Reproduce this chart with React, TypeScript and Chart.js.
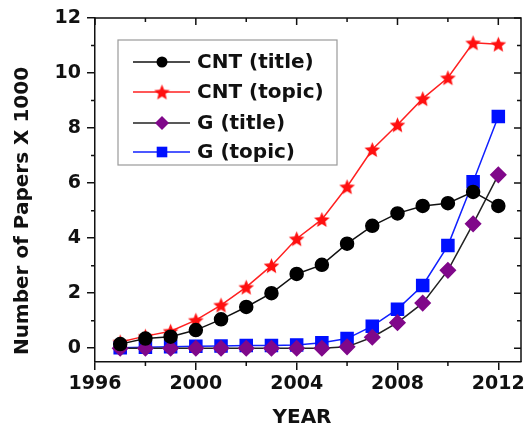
import React, { useEffect, useRef } from 'react';
import { Chart, registerables } from 'chart.js';
Chart.register(...registerables);

const years = [1997, 1998, 1999, 2000, 2001, 2002, 2003, 2004, 2005, 2006, 2007, 2008, 2009, 2010, 2011, 2012];
const cntTitle = [0.15, 0.35, 0.42, 0.66, 1.05, 1.5, 2.0, 2.7, 3.03, 3.8, 4.45, 4.9, 5.17, 5.27, 5.68, 5.17];
const cntTopic = [0.23, 0.44, 0.62, 1.02, 1.57, 2.22, 3.0, 3.98, 4.68, 5.87, 7.22, 8.12, 9.07, 9.83, 11.1, 11.05];
const gTitle = [0.0, 0.0, 0.0, 0.0, 0.0, 0.0, 0.0, 0.0, 0.0, 0.05, 0.4, 0.93, 1.64, 2.83, 4.52, 6.3];
const gTopic = [0.02, 0.04, 0.05, 0.07, 0.08, 0.1, 0.1, 0.12, 0.2, 0.35, 0.8, 1.42, 2.28, 3.73, 6.05, 8.42];

const seriesLabels = ['CNT (title)', 'CNT (topic)', 'G (title)', 'G (topic)'];
const xTicks = [1996, 2000, 2004, 2008, 2012];
const xMinorTicks = [1998, 2002, 2006, 2010];
const yTicks = [0, 2, 4, 6, 8, 10, 12];
const yMinorTicks = [1, 3, 5, 7, 9, 11];
const xTitle = 'YEAR';
const yTitle = 'Number of Papers X 1000';

const FONT = 'DejaVu Sans';

function makeStar(size: number, color: string) {
  const c = document.createElement('canvas');
  c.width = size;
  c.height = size;
  const ctx = c.getContext('2d')!;
  const cx = size / 2, cy = size / 2 + 0.8;
  const R = size / 2 - 0.3, r = R * 0.45;
  ctx.beginPath();
  for (let i = 0; i < 10; i++) {
    const a = -Math.PI / 2 + (i * Math.PI) / 5;
    const rad = i % 2 === 0 ? R : r;
    ctx.lineTo(cx + rad * Math.cos(a), cy + rad * Math.sin(a));
  }
  ctx.closePath();
  ctx.fillStyle = color;
  ctx.fill();
  return c;
}

function drawMarker(ctx: CanvasRenderingContext2D, style: any, x: number, y: number, r: number, fill: string) {
  ctx.save();
  ctx.fillStyle = fill;
  ctx.beginPath();
  if (style === 'circle') {
    ctx.arc(x, y, r, 0, Math.PI * 2);
    ctx.fill();
  } else if (style === 'rectRot') {
    ctx.moveTo(x - r, y);
    ctx.lineTo(x, y - r);
    ctx.lineTo(x + r, y);
    ctx.lineTo(x, y + r);
    ctx.closePath();
    ctx.fill();
  } else if (style === 'rect') {
    const s = r * Math.SQRT1_2;
    ctx.rect(x - s, y - s, 2 * s, 2 * s);
    ctx.fill();
  } else if (style instanceof HTMLCanvasElement) {
    ctx.drawImage(style, x - style.width / 2, y - style.height / 2);
  }
  ctx.restore();
}

const framePlugin = {
  id: 'frame',
  afterDraw(chart: any) {
    const ctx: CanvasRenderingContext2D = chart.ctx;
    const { left, right, top, bottom } = chart.chartArea;
    const xs = chart.scales.x;
    const ys = chart.scales.y;
    ctx.save();
    ctx.strokeStyle = '#111';
    ctx.lineWidth = 1.5;
    // top and right border
    ctx.beginPath();
    ctx.moveTo(left, top);
    ctx.lineTo(right, top);
    ctx.lineTo(right, bottom);
    ctx.stroke();
    ctx.beginPath();
    // bottom minor outward
    xMinorTicks.forEach((v) => {
      const px = xs.getPixelForValue(v);
      ctx.moveTo(px, bottom);
      ctx.lineTo(px, bottom + 4);
    });
    // left minor outward
    yMinorTicks.forEach((v) => {
      const py = ys.getPixelForValue(v);
      ctx.moveTo(left, py);
      ctx.lineTo(left - 4, py);
    });
    // top ticks inward
    xTicks.forEach((v) => {
      const px = xs.getPixelForValue(v);
      ctx.moveTo(px, top);
      ctx.lineTo(px, top + 7);
    });
    xMinorTicks.forEach((v) => {
      const px = xs.getPixelForValue(v);
      ctx.moveTo(px, top);
      ctx.lineTo(px, top + 4);
    });
    // right ticks inward
    yTicks.forEach((v) => {
      const py = ys.getPixelForValue(v);
      ctx.moveTo(right, py);
      ctx.lineTo(right - 7, py);
    });
    yMinorTicks.forEach((v) => {
      const py = ys.getPixelForValue(v);
      ctx.moveTo(right, py);
      ctx.lineTo(right - 4, py);
    });
    ctx.stroke();

    // titles
    ctx.fillStyle = '#111';
    ctx.font = `bold 20px "${FONT}"`;
    ctx.textAlign = 'center';
    ctx.textBaseline = 'middle';
    ctx.fillText(xTitle, 302, 418);
    ctx.save();
    ctx.translate(23, 211);
    ctx.rotate(-Math.PI / 2);
    ctx.fillText(yTitle, 0, 0);
    ctx.restore();

    // legend
    const lx0 = 118, ly0 = 40, lx1 = 337, ly1 = 165;
    ctx.strokeStyle = '#9a9a9a';
    ctx.lineWidth = 1.2;
    ctx.strokeRect(lx0, ly0, lx1 - lx0, ly1 - ly0);
    const rows = [62, 92, 123, 152];
    ctx.font = `bold 20px "${FONT}"`;
    ctx.textAlign = 'left';
    chart.data.datasets.forEach((ds: any, i: number) => {
      const y = rows[i];
      ctx.strokeStyle = ds.borderColor;
      ctx.lineWidth = 1.5;
      ctx.beginPath();
      ctx.moveTo(133, y);
      ctx.lineTo(190, y);
      ctx.stroke();
      const r = ds.pointStyle === 'circle' ? 5.5 : ds.pointStyle === 'rectRot' ? 7 : 7.5;
      drawMarker(ctx, ds.pointStyle, 162, y, r, ds.pointBackgroundColor);
      ctx.fillStyle = '#111';
      ctx.fillText(ds.label, 197, y + 1);
    });
    ctx.restore();
  },
};

export default function App() {
  const ref = useRef<HTMLCanvasElement>(null);
  useEffect(() => {
    const star = makeStar(17, '#ff1010');
    const starLegend = makeStar(15, '#ff1010');
    const mk = (vals: number[]) => years.map((y, i) => ({ x: y, y: vals[i] }));
    const chart = new Chart(ref.current!, {
      type: 'line',
      data: {
        datasets: [
          {
            label: seriesLabels[0],
            data: mk(cntTitle),
            borderColor: '#111',
            pointBackgroundColor: '#000',
            pointBorderColor: '#000',
            pointStyle: 'circle',
            pointRadius: 6.5,
            borderWidth: 1.5,
            order: 0,
          },
          {
            label: seriesLabels[1],
            data: mk(cntTopic),
            borderColor: '#ff2020',
            pointBackgroundColor: '#ff1010',
            pointBorderColor: '#ff1010',
            pointStyle: star as any,
            pointRadius: 8,
            borderWidth: 1.5,
            order: 1,
          },
          {
            label: seriesLabels[2],
            data: mk(gTitle),
            borderColor: '#222',
            pointBackgroundColor: '#80088a',
            pointBorderColor: '#80088a',
            pointStyle: 'rectRot',
            pointRadius: 7.5,
            borderWidth: 1.5,
            order: 2,
          },
          {
            label: seriesLabels[3],
            data: mk(gTopic),
            borderColor: '#1020ff',
            pointBackgroundColor: '#0010ff',
            pointBorderColor: '#0010ff',
            pointStyle: 'rect',
            pointRadius: 8.5,
            borderWidth: 1.5,
            order: 3,
          },
        ],
      },
      options: {
        animation: false,
        responsive: false,
        layout: { padding: { top: 18, right: 4, left: 0, bottom: 0 } },
        plugins: { legend: { display: false }, tooltip: { enabled: false } },
        elements: { line: { tension: 0 } },
        scales: {
          x: {
            type: 'linear',
            min: 1996,
            max: 2012.9,
            afterFit: (s: any) => { s.height = 71; },
            afterBuildTicks: (s: any) => { s.ticks = xTicks.map((v) => ({ value: v })); },
            grid: { drawOnChartArea: false, drawTicks: true, tickLength: 8, color: '#111', lineWidth: 1.5 },
            border: { display: true, color: '#111', width: 1.5 },
            ticks: {
              color: '#111',
              padding: 3,
              maxRotation: 0,
              autoSkip: false,
              font: { family: FONT, size: 19, weight: 'bold' },
              callback: (v: any) => String(v),
            },
          },
          y: {
            type: 'linear',
            min: -0.5,
            max: 12,
            afterFit: (s: any) => { s.width = 95; },
            afterBuildTicks: (s: any) => { s.ticks = yTicks.map((v) => ({ value: v })); },
            grid: { drawOnChartArea: false, drawTicks: true, tickLength: 8, color: '#111', lineWidth: 1.5 },
            border: { display: true, color: '#111', width: 1.5 },
            ticks: {
              color: '#111',
              padding: 6,
              font: { family: FONT, size: 19, weight: 'bold' },
              callback: (v: any) => String(v),
            },
          },
        },
      },
      plugins: [framePlugin],
    });
    (chart as any)._starLegend = starLegend;
    return () => chart.destroy();
  }, []);
  return (
    <div style={{ position: 'absolute', left: 0, top: 0, width: 531, height: 433, background: '#fff' }}>
      <canvas ref={ref} width={531} height={433} />
    </div>
  );
}
